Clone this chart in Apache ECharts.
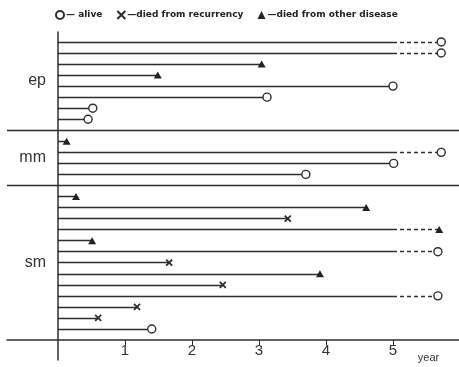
<!DOCTYPE html>
<html>
<head>
<meta charset="utf-8">
<script src="https://cdn.jsdelivr.net/npm/echarts@6/dist/echarts.min.js"></script>
<style>
  html, body { margin: 0; padding: 0; background: #fff; }
  #chart { width: 459px; height: 367px; }
</style>
</head>
<body>
<div id="chart"></div>
<script>
// years of follow-up per patient, top to bottom, and how each one ended
const groupNames = ['ep', 'mm', 'sm'];
const epYears = [5.72, 5.72, 3.04, 1.49, 5.0, 3.12, 0.52, 0.45];
const epStatus = ['alive', 'alive', 'other', 'other', 'alive', 'alive', 'alive', 'alive'];
const mmYears = [0.13, 5.72, 5.01, 3.7];
const mmStatus = ['other', 'alive', 'alive', 'alive'];
const smYears = [0.27, 4.6, 3.43, 5.69, 0.51, 5.67, 1.66, 3.91, 2.46, 5.67, 1.18, 0.6, 1.4];
const smStatus = ['other', 'other', 'recur', 'other', 'other', 'alive', 'recur', 'other', 'recur', 'alive', 'recur', 'recur', 'alive'];
const xTicks = [1, 2, 3, 4, 5];
const solidUntil = 5; // observed follow-up ends here, dashed after

const statusNames = {
  alive: 'alive',
  recur: 'died from recurrency',
  other: 'died from other disease'
};

const X_MIN = -0.76, X_MAX = 5.985;

// rows stack from top; each group gets one empty slot after it for the divider
const groups = [
  { name: groupNames[0], years: epYears, status: epStatus },
  { name: groupNames[1], years: mmYears, status: mmStatus },
  { name: groupNames[2], years: smYears, status: smStatus }
];
const totalSlots = groups.reduce((s, g) => s + g.years.length, 0) + groups.length - 1;

const solid = [], dashed = [], points = { alive: [], recur: [], other: [] };
const dividers = [], labelValues = [], labelText = {};
let slot = 0;
groups.forEach((g, gi) => {
  const first = slot;
  g.years.forEach((t, i) => {
    const y = totalSlots - slot;
    solid.push({ coords: [[0, y], [Math.min(t, solidUntil), y]] });
    if (t > solidUntil) dashed.push({ coords: [[solidUntil, y], [t, y]] });
    points[g.status[i]].push([t, y]);
    slot++;
  });
  const mid = totalSlots - (first + slot - 1) / 2;
  labelValues.push(mid);
  labelText[mid.toFixed(2)] = g.name;
  if (gi < groups.length - 1) {
    dividers.push({ coords: [[X_MIN, totalSlots - slot], [X_MAX, totalSlots - slot]] });
    slot++;
  }
});

const ink = '#2e2e2e';
const xPath = 'path://M0,0L10,10M10,0L0,10';

const chart = echarts.init(document.getElementById('chart'));
chart.setOption({
  animation: false,
  grid: {
    left: 7, right: 0, top: 32, bottom: 7,
    outerBounds: { left: -200, right: -200, top: -200, bottom: -200 }
  },
  legend: {
    left: 50,
    top: 5,
    itemWidth: 8,
    itemHeight: 8,
    itemGap: 14,
    data: [
      { name: statusNames.alive, icon: 'circle' },
      { name: statusNames.recur, icon: xPath },
      { name: statusNames.other, icon: 'triangle' }
    ],
    formatter: n => (n === 'alive' ? '— ' : '—') + n,
    textStyle: { fontFamily: 'DejaVu Sans', fontWeight: 'bold', fontSize: 9, color: '#222', padding: [0, 0, 0, -3] }
  },
  xAxis: {
    type: 'value',
    min: X_MIN,
    max: X_MAX,
    axisLine: { onZero: true, lineStyle: { color: ink, width: 1.5 } },
    axisTick: { customValues: xTicks, length: 5, lineStyle: { color: ink, width: 1 } },
    axisLabel: {
      customValues: xTicks.concat([5.53]),
      margin: -17,
      fontFamily: 'Liberation Sans Narrow, Liberation Sans, sans-serif',
      fontSize: 15,
      color: '#333',
      formatter: v => (v > 5.2 ? '{y|year}' : String(v)),
      rich: { y: { fontSize: 11, fontFamily: 'Liberation Sans', color: '#333', padding: [9, 0, 0, 0] } }
    },
    splitLine: { show: false }
  },
  yAxis: {
    type: 'value',
    min: -1.81,
    max: totalSlots + 0.9,
    axisLine: { show: true, onZero: true, lineStyle: { color: ink, width: 1.5 } },
    axisTick: { show: false },
    axisLabel: {
      customValues: labelValues,
      margin: -39,
      fontFamily: 'Liberation Sans, sans-serif',
      fontSize: 16,
      color: '#333',
      formatter: v => labelText[Number(v).toFixed(2)] || ''
    },
    splitLine: { show: false }
  },
  series: [
    {
      type: 'lines', coordinateSystem: 'cartesian2d', silent: true,
      data: dividers, lineStyle: { color: ink, width: 1.3, opacity: 1 }
    },
    {
      type: 'lines', coordinateSystem: 'cartesian2d', silent: true,
      data: solid, lineStyle: { color: ink, width: 1.4, opacity: 1 }
    },
    {
      type: 'lines', coordinateSystem: 'cartesian2d', silent: true,
      data: dashed, lineStyle: { color: ink, width: 1.4, opacity: 1, type: [4, 3] }
    },
    {
      name: statusNames.alive, type: 'scatter', data: points.alive,
      symbol: 'circle', symbolSize: 8, z: 5,
      itemStyle: { color: '#fff', borderColor: ink, borderWidth: 1.4, opacity: 1 }
    },
    {
      name: statusNames.recur, type: 'scatter', data: points.recur,
      symbol: xPath, symbolSize: 6, z: 5,
      itemStyle: { color: 'rgba(0,0,0,0)', borderColor: ink, borderWidth: 1.8, opacity: 1 }
    },
    {
      name: statusNames.other, type: 'scatter', data: points.other,
      symbol: 'triangle', symbolSize: [8, 7], z: 5,
      itemStyle: { color: '#222', opacity: 1 }
    }
  ]
});
</script>
</body>
</html>
